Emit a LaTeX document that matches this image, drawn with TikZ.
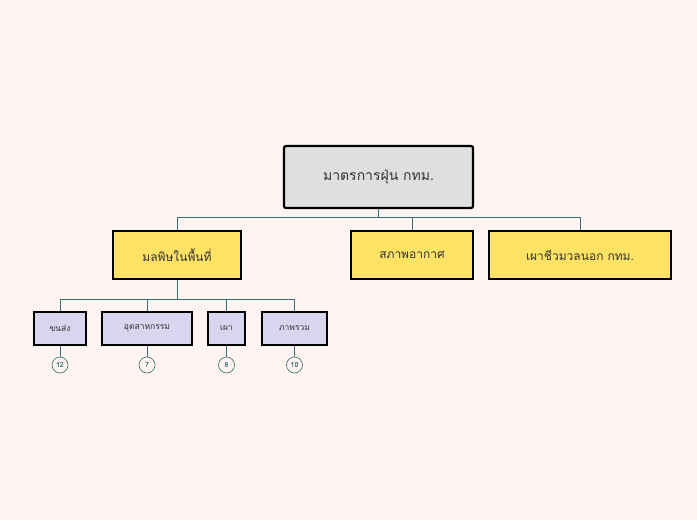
\documentclass[tikz,border=0pt]{standalone}
\usepackage{fontspec}
\newfontfamily\thai[Script=Thai]{Loma}
\begin{document}
\begin{tikzpicture}[x=1pt,y=-1pt,
 conn/.style={draw=teal!60!black!80,line width=0.8pt},
 rootbox/.style={draw=black,line width=2.2pt,fill=gray!25,rounded corners=2pt,minimum width=189pt,minimum height=62pt,font=\thai\fontsize{14}{16}\selectfont,text=black!80},
 mainbox/.style={draw=black,line width=1.3pt,fill=yellow!70!orange!60,minimum height=48pt,font=\thai\fontsize{12}{14}\selectfont,text=black!80},
 subbox/.style={draw=black,line width=2.2pt,fill=cyan!20!blue!15,minimum height=33pt,font=\thai\fontsize{8.5}{10}\selectfont,text=black!80},
 num/.style={circle,draw=teal!60!black!80,line width=0.6pt,minimum size=16pt,inner sep=0pt,font=\thai\fontsize{7}{8}\selectfont,text=teal!60!black}]
\fill[fill={rgb,255:red,253;green,243;blue,241}] (0,0) rectangle (697,520);
\useasboundingbox (0,0) rectangle (697,520);
\node[rootbox] (r) at (378.5,177) {มาตรการฝุ่น กทม.};
\node[mainbox,minimum width=128pt] (a) at (177,255) {มลพิษในพื้นที่};
\node[mainbox,minimum width=122pt] (b) at (412,255) {สภาพอากาศ};
\node[mainbox,minimum width=182pt] (c) at (580,255) {เผาชีวมวลนอก กทม.};
\node[subbox,minimum width=52pt] (s1) at (60,328.5) {ขนส่ง};
\node[subbox,minimum width=90pt] (s2) at (147,328.5) {อุตสาหกรรม};
\node[subbox,minimum width=37pt] (s3) at (226.5,328.5) {เผา};
\node[subbox,minimum width=65pt] (s4) at (294.5,328.5) {ภาพรวม};
\node[num] (n1) at (60,365) {12};
\node[num] (n2) at (147,365) {7};
\node[num] (n3) at (226.5,365) {8};
\node[num] (n4) at (294.5,365) {10};
\coordinate (j0) at (378.5,217);
\draw[conn] (r.south) -- (j0);
\foreach \t in {a,b,c} \draw[conn] (j0) -| (\t.north);
\coordinate (j1) at (177,299);
\draw[conn] (a.south) -- (j1);
\foreach \t in {s1,s2,s3,s4} \draw[conn] (j1) -| (\t.north);
\foreach \i in {1,2,3,4} \draw[conn] (s\i.south) -- (n\i.north);
\end{tikzpicture}
\end{document}
